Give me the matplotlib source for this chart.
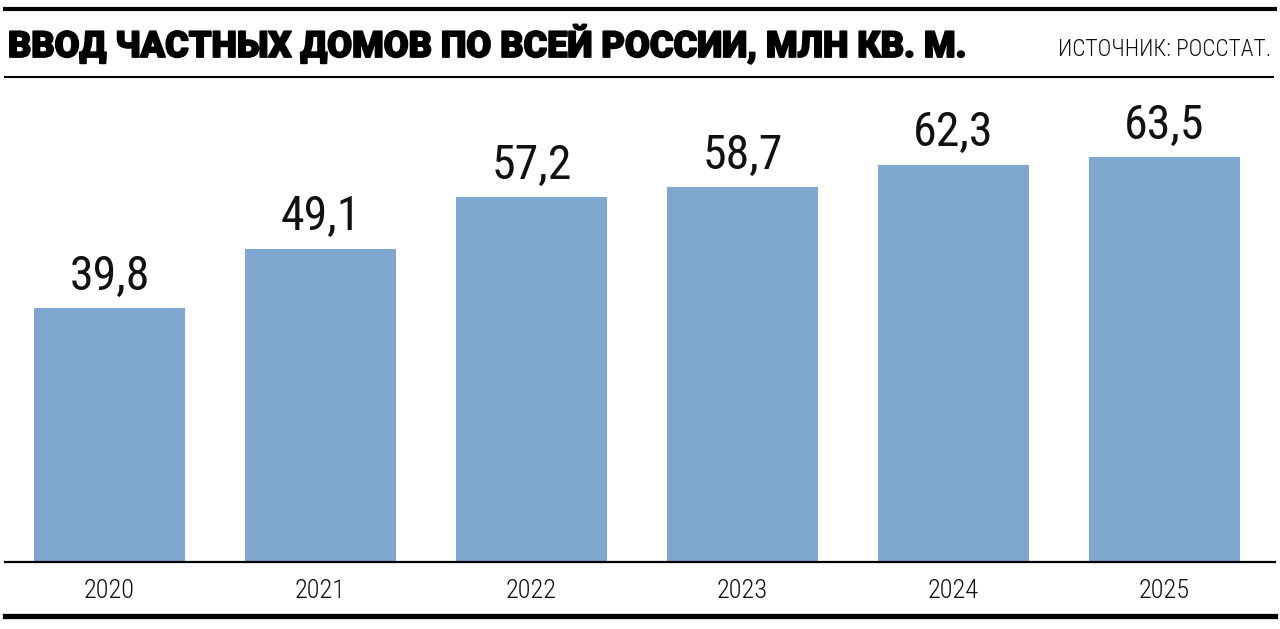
import matplotlib
matplotlib.use("Agg")
import matplotlib.pyplot as plt
import matplotlib.patheffects as pe
from matplotlib.lines import Line2D

years = ["2020", "2021", "2022", "2023", "2024", "2025"]
values = [39.8, 49.1, 57.2, 58.7, 62.3, 63.5]
labels = ["39,8", "49,1", "57,2", "58,7", "62,3", "63,5"]
title = "ВВОД ЧАСТНЫХ ДОМОВ ПО ВСЕЙ РОССИИ, МЛН КВ. М."
source = "ИСТОЧНИК: РОССТАТ."

W, H = 1280, 629
fig = plt.figure(figsize=(W / 100, H / 100), dpi=100)
fig.patch.set_facecolor("white")

def fx(px):
    return px / W

def fy(py):
    return 1 - py / H

ax = fig.add_axes([fx(4), fy(562), fx(1270) - fx(4), fy(80) - fy(562)])
x = list(range(len(years)))
ax.bar(x, values, width=0.716, color="#80a7cf", zorder=2)
ax.set_xlim(-0.5, len(years) - 0.5)
ax.set_ylim(0, 482 / 6.38)
for sp in ax.spines.values():
    sp.set_visible(False)
ax.set_yticks([])
ax.set_xticks([])
for xi, v, lab in zip(x, values, labels):
    ax.annotate(lab, (xi, v), xytext=(0, 6), textcoords="offset points",
                ha="center", va="bottom", fontsize=34.5, family="Roboto Condensed",
                fontweight="normal", color="#111111")
for xi, yr in zip(x, years):
    ax.annotate(yr, (xi, 0), xytext=(0, -21), textcoords="offset points",
                ha="center", va="center", fontsize=19, family="Roboto Condensed",
                fontweight="light", color="#111111", annotation_clip=False)

fig.add_artist(Line2D([fx(5), fx(1275)], [fy(8.5), fy(8.5)], color="black", lw=3.0))
fig.add_artist(Line2D([fx(5), fx(1273)], [fy(77), fy(77)], color="black", lw=1.5))
fig.add_artist(Line2D([fx(5), fx(1275)], [fy(562), fy(562)], color="black", lw=1.6))
fig.add_artist(Line2D([fx(5), fx(1275)], [fy(616), fy(616)], color="black", lw=3.8))

t = fig.text(fx(8), fy(57), title, ha="left", va="baseline", fontsize=30,
             fontweight=900, family="Roboto", color="black",
             path_effects=[pe.withStroke(linewidth=1.3, foreground="black")])
s = fig.text(fx(1271), fy(56), source, ha="right", va="baseline", fontsize=20,
             family="Roboto Condensed", fontweight="light", color="#111111")

fig.canvas.draw()
t.set_fontsize(30 * 958 / t.get_window_extent().width)
s.set_fontsize(20 * 213 / s.get_window_extent().width)

fig.savefig("out.png", dpi=100, facecolor="white")
